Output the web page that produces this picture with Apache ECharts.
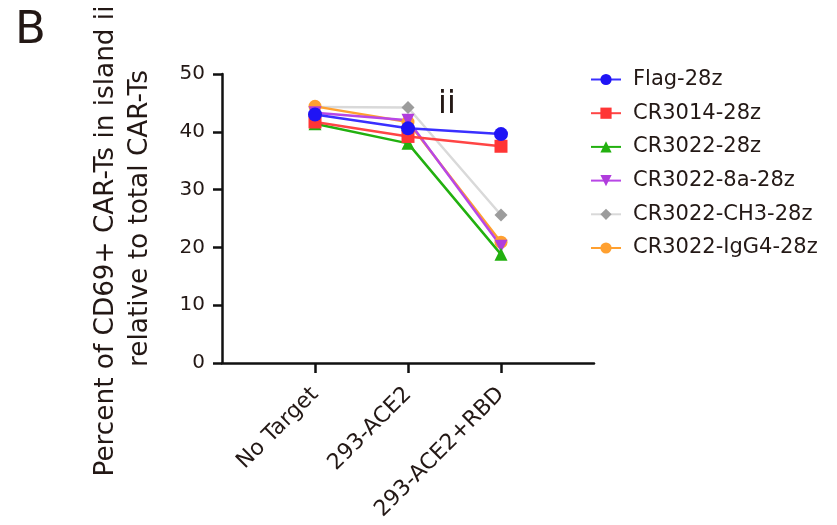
<!DOCTYPE html>
<html>
<head>
<meta charset="utf-8">
<script src="https://cdn.jsdelivr.net/npm/echarts@6/dist/echarts.min.js"></script>
<style>
html,body{margin:0;padding:0;background:#ffffff;}
#chart{width:837px;height:525px;}
</style>
</head>
<body>
<div id="chart"></div>
<script>
const categories = ['No Target', '293-ACE2', '293-ACE2+RBD'];
const yTicks = [0, 10, 20, 30, 40, 50];
const legendOrder = ['Flag-28z', 'CR3014-28z', 'CR3022-28z', 'CR3022-8a-28z', 'CR3022-CH3-28z', 'CR3022-IgG4-28z'];

const flag28z      = [43.0, 40.6, 39.6];
const cr3014_28z   = [41.7, 39.2, 37.5];
const cr3022_28z   = [41.4, 38.0, 18.8];
const cr3022_8a    = [43.3, 42.0, 20.2];
const cr3022_ch3   = [44.3, 44.2, 25.6];
const cr3022_igg4  = [44.4, 41.7, 20.9];

const FONT = 'DejaVu Sans';
const TXT = '#231815';

function pts(arr){ return arr.map((v,i)=>[i+1, v]); }

function mk(name, data, lineColor, markColor, symbol, rot, size){
  return {
    name: name, type: 'line', data: pts(data),
    symbol: symbol, symbolSize: size, symbolRotate: rot || 0,
    lineStyle: {color: lineColor, width: 2.5},
    itemStyle: {color: markColor},
    emphasis: {disabled: true}
  };
}

const chart = echarts.init(document.getElementById('chart'));
chart.setOption({
  animation: false,
  backgroundColor: '#ffffff',
  grid: {left: 222, right: 243, top: 74, bottom: 162, containLabel: false},
  xAxis: {
    type: 'value', min: 0, max: 4, interval: 1,
    splitLine: {show: false},
    axisLine: {show: true, lineStyle: {color: '#111', width: 2.5}},
    axisTick: {show: true, customValues: [1,2,3], length: 10, lineStyle: {color: '#111', width: 2.5}},
    axisLabel: {
      customValues: [1,2,3], rotate: 45, margin: 28,
      fontFamily: FONT, fontSize: 22, color: TXT,
      formatter: v => categories[v-1] || ''
    }
  },
  yAxis: {
    type: 'value', min: yTicks[0], max: yTicks[yTicks.length-1], interval: 10,
    splitLine: {show: false},
    axisLine: {show: true, lineStyle: {color: '#111', width: 2.5}},
    axisTick: {show: true, length: 9, lineStyle: {color: '#111', width: 2.5}},
    axisLabel: {margin: 17, fontFamily: FONT, fontSize: 20, color: TXT}
  },
  legend: {
    orient: 'vertical', left: 585, top: 64,
    data: legendOrder,
    itemWidth: 30, itemHeight: 14, itemGap: 12.7,
    textStyle: {fontFamily: FONT, fontSize: 21, color: TXT, lineHeight: 20, padding: [0,0,0,7]}
  },
  graphic: [
    {type: 'text', left: 15, top: 9, style: {text: 'B', font: '45px "DejaVu Sans"', fill: TXT}},
    {type: 'text', x: 106.5, y: 241, rotation: Math.PI/2,
      style: {text: 'Percent of CD69+ CAR-Ts in island ii', font: '26.3px "DejaVu Sans"', fill: TXT, align: 'center', verticalAlign: 'middle'}},
    {type: 'text', x: 140, y: 218.5, rotation: Math.PI/2,
      style: {text: 'relative to total CAR-Ts', font: '26.3px "DejaVu Sans"', fill: TXT, align: 'center', verticalAlign: 'middle'}},
    {type: 'text', x: 447, y: 104.5,
      style: {text: 'ii', font: '32px "DejaVu Sans"', fill: TXT, align: 'center', verticalAlign: 'middle'}}
  ],
  series: [
    mk('CR3022-CH3-28z', cr3022_ch3, '#d9d9d9', '#9c9c9c', 'diamond', 0, 13),
    mk('CR3022-IgG4-28z', cr3022_igg4, '#ffa030', '#ffa030', 'circle', 0, 13),
    mk('CR3022-8a-28z', cr3022_8a, '#b847e6', '#b03cdc', 'triangle', 180, 13),
    mk('CR3022-28z', cr3022_28z, '#22b00f', '#22b00f', 'triangle', 0, 13),
    mk('CR3014-28z', cr3014_28z, '#ff4545', '#ff3535', 'rect', 0, 13),
    mk('Flag-28z', flag28z, '#3a30ff', '#1f14f5', 'circle', 0, 14)
  ]
});
</script>
</body>
</html>
